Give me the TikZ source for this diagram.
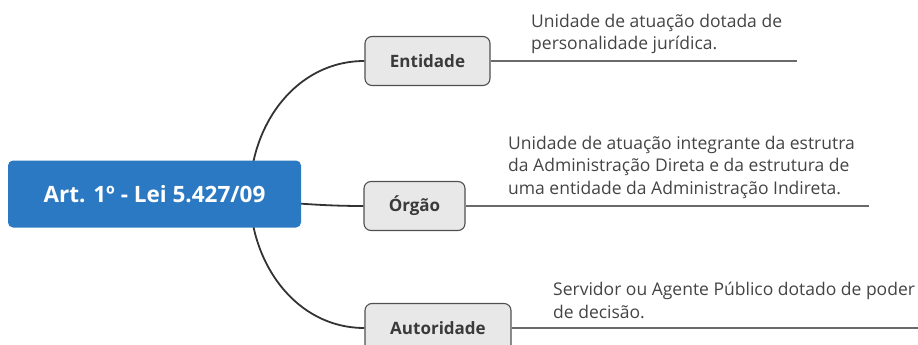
\documentclass[tikz,border=0pt]{standalone}
\usepackage{fontspec}
\setmainfont{Open Sans}
\usetikzlibrary{backgrounds}
\definecolor{mainblue}{HTML}{2B79C2}
\definecolor{boxfill}{HTML}{E8E8E8}
\definecolor{boxline}{HTML}{505050}
\definecolor{labeltext}{HTML}{3A3A3A}
\definecolor{desctext}{HTML}{444444}
\definecolor{branch}{HTML}{333333}
\definecolor{underln}{HTML}{6A6A6A}
\tikzset{
  x=1pt, y=-1pt,
  mainbox/.style={fill=mainblue, rounded corners=5pt, minimum width=293pt, minimum height=67pt,
    inner sep=0pt, text=white, font=\bfseries\fontsize{22.5}{26}\selectfont},
  subbox/.style={fill=boxfill, draw=boxline, line width=1.1pt, rounded corners=7pt,
    minimum height=49pt, inner sep=0pt, text=labeltext, font=\bfseries\fontsize{17}{20}\selectfont},
  desc/.style={anchor=north west, inner sep=0pt, align=left, text=desctext,
    font=\fontsize{17.5}{22.5}\selectfont},
  branchline/.style={draw=branch, line width=1.8pt},
  underline/.style={draw=underln, line width=1.4pt},
}
\begin{document}
\begin{tikzpicture}
\useasboundingbox (0,0) rectangle (918,345);
\node[mainbox] (main) at (154.5,194) {Art. 1º - Lei 5.427/09};
\node[subbox, minimum width=125pt] (ent) at (427.5,61) {Entidade};
\node[subbox, minimum width=101pt] (org) at (414.5,206) {Órgão};
\node[subbox, minimum width=146pt] (aut) at (438,328) {Autoridade};
\coordinate (entend) at (797,61);
\coordinate (orgend) at (869,206);
\coordinate (autend) at (918,328);
\coordinate (hub) at (250,194);
\node[desc] (entd) at (531,14) {Unidade de atuação dotada de\\personalidade jurídica.};
\node[desc] (orgd) at (508,136) {Unidade de atuação integrante da estrutra\\da Administração Direta e da estrutura de\\uma entidade da Administração Indireta.};
\node[desc] (autd) at (553,282) {Servidor ou Agente Público dotado de poder\\de decisão.};
\begin{scope}[on background layer]
\draw[branchline] (hub) to[out=90, in=180] (ent.west);
\draw[branchline] (hub) to[out=-90, in=180] (aut.west);
\draw[branchline] (main.center) to[out=0, in=180] (org.west);
\end{scope}
\draw[underline] (ent.east) -- (entend);
\draw[underline] (org.east) -- (orgend);
\draw[underline] (aut.east) -- (autend);
\end{tikzpicture}
\end{document}
